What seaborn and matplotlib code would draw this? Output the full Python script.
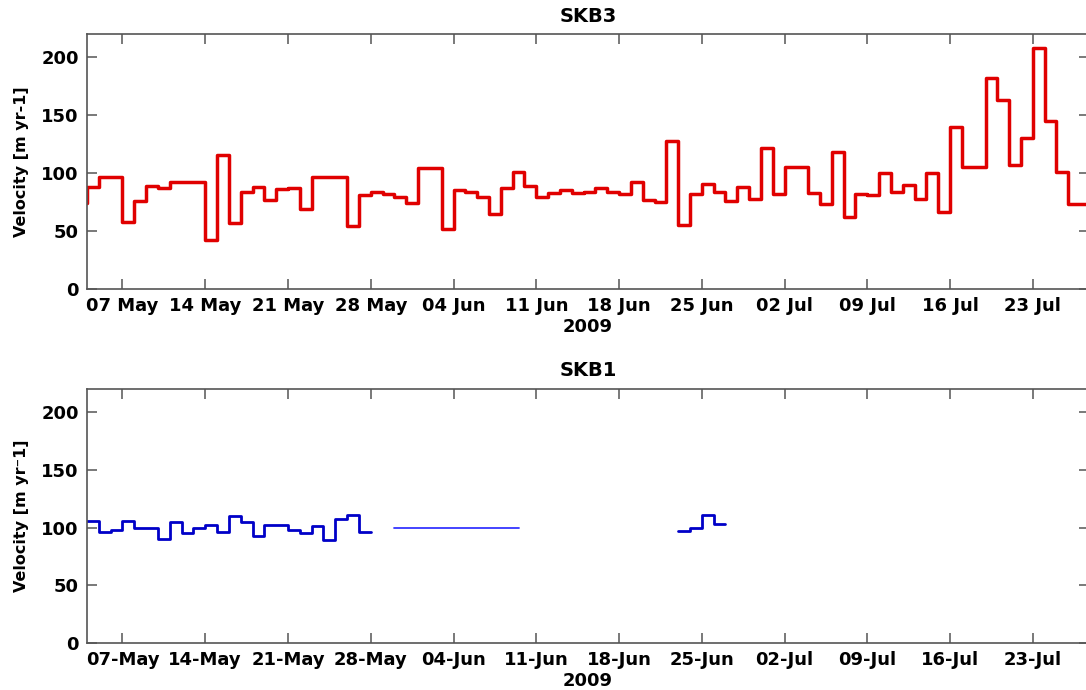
import matplotlib
matplotlib.use('Agg')
import matplotlib.pyplot as plt
import matplotlib.dates as mdates
import pandas as pd
import seaborn as sns

# ---------------- data ----------------
# SKB3: daily velocities (m/yr), first value is 3 May 2009
skb3_start = '2009-05-03'
skb3_values = [74, 88, 97, 97, 58, 76, 89, 87, 92, 92, 92, 42, 116, 57, 84, 88, 77,
               86, 87, 69, 97, 97, 97, 54, 81, 84, 82, 79, 74,
               104, 104, 52, 85, 84, 79, 65, 87, 101, 89, 79, 83, 85, 83, 84, 87,
               84, 82, 92, 77, 75, 128, 55, 82, 91, 84, 76, 88, 78, 122,
               82, 105, 105, 83, 73, 118, 62, 82, 81, 100, 84, 90, 78, 100, 66,
               140, 105, 105, 182, 163, 107, 130, 208, 145, 101, 73, 73]

# SKB1: three pieces
skb1_a_start = '2009-05-04'
skb1_a_values = [106, 96, 98, 106, 100, 100, 90, 105, 95, 100, 102, 96, 110, 105,
                 93, 102, 102, 98, 95, 101, 89, 107, 111, 96]
skb1_b_dates = ['2009-05-30 00:00', '2009-06-09 12:00']
skb1_b_values = [100, 100]
skb1_c_start = '2009-06-23'
skb1_c_values = [97, 100, 111, 103]

tick_dates = pd.date_range('2009-05-07', '2009-07-23', freq='7D')
yticks = [0, 50, 100, 150, 200]
x_range = ('2009-05-04', '2009-07-27 18:00')
y_range = (0, 220)


def step_frame(start, values):
    dates = pd.date_range(start, periods=len(values) + 1, freq='D')
    vals = list(values) + [values[-1]]
    return pd.DataFrame({'date': dates, 'velocity': vals})


# ---------------- style ----------------
sns.set_theme(style='white')
plt.rcParams['font.family'] = ['DejaVu Sans']
plt.rcParams['font.weight'] = 'bold'
plt.rcParams['axes.labelweight'] = 'bold'
plt.rcParams['axes.titleweight'] = 'bold'
plt.rcParams['text.color'] = 'black'
plt.rcParams['axes.labelcolor'] = 'black'

W, H = 1086, 690
fig = plt.figure(figsize=(W / 100, H / 100), dpi=100)
fig.patch.set_facecolor('white')

left = 87 / W
width = (1089 - 87) / W
ax1 = fig.add_axes([left, (H - 289) / H, width, 255 / H])
ax2 = fig.add_axes([left, (H - 643) / H, width, 254 / H])

# top panel
sns.lineplot(data=step_frame(skb3_start, skb3_values), x='date', y='velocity',
             ax=ax1, color='#e00000', linewidth=2.5, drawstyle='steps-post',
             estimator=None, sort=False)

# bottom panel
sns.lineplot(data=step_frame(skb1_a_start, skb1_a_values), x='date', y='velocity',
             ax=ax2, color='#0000c8', linewidth=2.0, drawstyle='steps-post',
             estimator=None, sort=False)
sns.lineplot(data=pd.DataFrame({'date': pd.to_datetime(skb1_b_dates, format='%Y-%m-%d %H:%M'),
                                'velocity': skb1_b_values}),
             x='date', y='velocity', ax=ax2, color='#3535ff', linewidth=1.3,
             estimator=None, sort=False)
sns.lineplot(data=step_frame(skb1_c_start, skb1_c_values), x='date', y='velocity',
             ax=ax2, color='#0000c8', linewidth=2.0, drawstyle='steps-post',
             estimator=None, sort=False)

for ax, title, fmt, ylab in [(ax1, 'SKB3', '%d %b', 'Velocity [m yr-1]'),
                             (ax2, 'SKB1', '%d-%b', 'Velocity [m yr\u207b1]')]:
    ax.set_xlim(pd.Timestamp(x_range[0]), pd.Timestamp(x_range[1]))
    ax.set_ylim(*y_range)
    ax.set_xticks(tick_dates)
    ax.xaxis.set_major_formatter(mdates.DateFormatter(fmt))
    ax.set_yticks(yticks)
    ax.tick_params(direction='in', length=7.5, width=1.1, color='#555555',
                   labelcolor='black', labelsize=13, pad=6,
                   top=True, right=True, bottom=True, left=True)
    for lab in ax.get_xticklabels() + ax.get_yticklabels():
        lab.set_fontweight('bold')
    for sp in ax.spines.values():
        sp.set_color('#555555')
        sp.set_linewidth(1.2)
        sp.set_visible(True)
    ax.set_title(title, fontsize=14, fontweight='bold', pad=9, color='black')
    ax.set_xlabel('2009', fontsize=13, fontweight='bold', labelpad=2, color='black')
    ax.set_ylabel(ylab, fontsize=11.5, fontweight='bold', labelpad=9, color='black')
    ax.grid(False)
    ax.set_facecolor('white')

fig.savefig('out.png', dpi=100)
